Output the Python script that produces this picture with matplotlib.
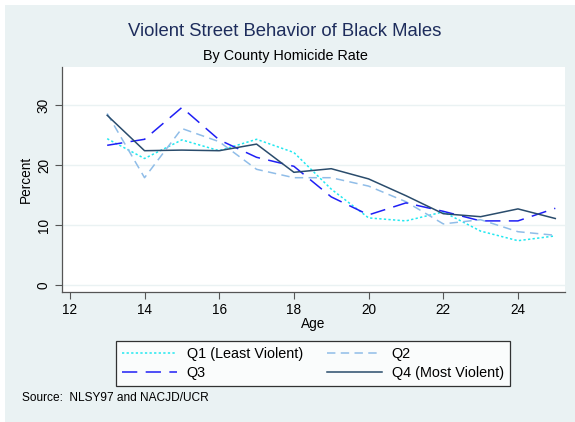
import matplotlib
matplotlib.use("Agg")
import matplotlib.pyplot as plt
from matplotlib.patches import Rectangle

plt.rcParams['font.family'] = ['Liberation Sans', 'DejaVu Sans']

ages = [13, 14, 15, 16, 17, 18, 19, 20, 21, 22, 23, 24, 25]
q1 = [24.4, 21.1, 24.2, 22.4, 24.3, 22.1, 16.0, 11.2, 10.7, 12.2, 9.0, 7.4, 8.2]
q2 = [28.6, 17.9, 26.1, 23.9, 19.3, 17.9, 17.9, 16.5, 13.9, 10.2, 10.9, 8.9, 8.3]
q3 = [23.3, 24.3, 29.6, 24.2, 21.3, 19.8, 14.7, 11.7, 13.7, 12.3, 10.7, 10.7, 12.8]
q4 = [28.3, 22.4, 22.5, 22.4, 23.5, 18.8, 19.4, 17.7, 14.9, 11.9, 11.4, 12.7, 11.1]
labels = ["Q1 (Least Violent)", "Q2", "Q3", "Q4 (Most Violent)"]
xticks = [12, 14, 16, 18, 20, 22, 24]
yticks = [0, 10, 20, 30]

W, H = 575, 422
bg = '#EAF2F3'
fig = plt.figure(figsize=(W / 100, H / 100), dpi=100)
fig.patch.set_facecolor(bg)
# white outer margin on top and left
fig.patches.append(Rectangle((0, 1 - 5 / H), 1, 5 / H, transform=fig.transFigure,
                             facecolor='white', edgecolor='none', zorder=0))
fig.patches.append(Rectangle((0, 0), 5 / W, 1, transform=fig.transFigure,
                             facecolor='white', edgecolor='none', zorder=0))

left, right, top, bottom = 62, 565, 66.7, 292.3
ax = fig.add_axes([left / W, 1 - bottom / H, (right - left) / W, (bottom - top) / H])
ax.set_facecolor('white')

l1, = ax.plot(ages, q1, color='#22E8F0', lw=1.1, dashes=(1.5, 1.5), label=labels[0])
l2, = ax.plot(ages, q2, color='#90BDE8', lw=1.1, dashes=(5.5, 3.5), label=labels[1])
l3, = ax.plot(ages, q3, color='#1F1FF5', lw=1.1, dashes=(10, 5.5), label=labels[2])
l4, = ax.plot(ages, q4, color='#2A4C6C', lw=1.1, label=labels[3])

ax.set_xlim(11.79, 25.26)
ax.set_ylim(-1.2, 36.4)
ax.set_xticks(xticks)
ax.set_yticks(yticks)
ax.set_yticklabels([str(v) for v in yticks], rotation=90, va='center')
ax.tick_params(axis='both', labelsize=9.8, length=5, width=0.8, color='#555555', pad=3)
ax.grid(axis='y', color=bg, lw=1.0)
ax.set_axisbelow(True)
for s in ['top', 'right']:
    ax.spines[s].set_visible(False)
for s in ['left', 'bottom']:
    ax.spines[s].set_color('#555555')
    ax.spines[s].set_linewidth(0.9)

ax.set_xlabel('Age', fontsize=9.8, labelpad=0)
ax.set_ylabel('Percent', fontsize=9.8, labelpad=3)

fig.text(285 / W, 1 - 32 / H, 'Violent Street Behavior of Black Males', ha='center', va='center',
         fontsize=13.3, color='#1E2D5C')
fig.text(285 / W, 1 - 56 / H, 'By County Homicide Rate', ha='center', va='center',
         fontsize=10.4, color='black')

handles = [l1, l3, l2, l4]
leg = fig.legend(handles, [h.get_label() for h in handles], loc='center',
                 bbox_to_anchor=((114 + 512) / 2 / W, 1 - (340 + 387) / 2 / H),
                 ncol=2, fontsize=10.4, frameon=True, fancybox=False, handlelength=3.8,
                 handletextpad=0.65, columnspacing=1.7, labelspacing=0.35, borderpad=0.4)
leg.get_frame().set_edgecolor('black')
leg.get_frame().set_linewidth(0.9)
leg.get_frame().set_facecolor('white')

fig.text(22 / W, 1 - 398 / H, 'Source:  NLSY97 and NACJD/UCR', ha='left', va='center', fontsize=8.6)

fig.savefig('out.png', dpi=100, facecolor=fig.get_facecolor())
